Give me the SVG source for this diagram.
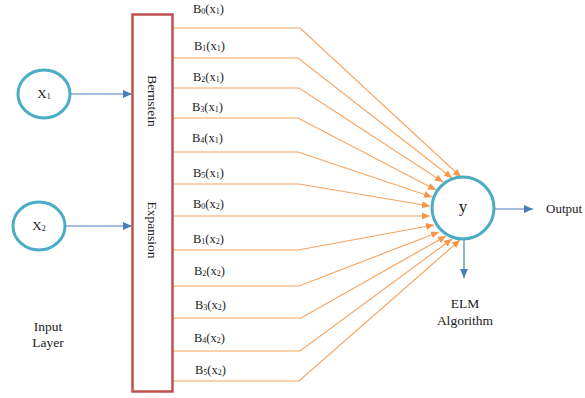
<svg xmlns="http://www.w3.org/2000/svg" width="585" height="398" viewBox="0 0 585 398">
<style>
text{font-family:"Liberation Serif","Times New Roman",serif;fill:#222}
.lbl{font-size:12.5px}
.sub{font-size:8px}
.node{fill:#fff;stroke:#4bacc6;stroke-width:3}
.conn{fill:none;stroke:#f9a55f;stroke-width:1.2}
.blue{fill:none;stroke:#4a7ebb;stroke-width:1.2}
</style>
<defs>
<marker id="ao" markerUnits="userSpaceOnUse" markerWidth="9" markerHeight="8" refX="8" refY="3.5" orient="auto"><path d="M0,0 L8,3.5 L0,7 z" fill="#f79646"/></marker>
<marker id="ab" markerUnits="userSpaceOnUse" markerWidth="10" markerHeight="9" refX="9" refY="4" orient="auto"><path d="M0,0 L9,4 L0,8 z" fill="#4a7ebb"/></marker>
</defs>
<g id="connectors">
<line class="blue" x1="70" y1="94" x2="132" y2="94" marker-end="url(#ab)"/>
<line class="blue" x1="65" y1="226" x2="132" y2="226" marker-end="url(#ab)"/>
<line class="blue" x1="494" y1="209" x2="533" y2="209" marker-end="url(#ab)"/>
<line class="blue" x1="464" y1="240" x2="464" y2="278" marker-end="url(#ab)"/>
<polyline class="conn" points="173,28 300,28 461,177" marker-end="url(#ao)"/>
<polyline class="conn" points="173,58 298,58 452,178" marker-end="url(#ao)"/>
<polyline class="conn" points="173,88 299,88 443,182" marker-end="url(#ao)"/>
<polyline class="conn" points="173,118 298,118 436,190" marker-end="url(#ao)"/>
<polyline class="conn" points="173,152 298,152 432,197" marker-end="url(#ao)"/>
<polyline class="conn" points="173,184 299,184 430,206" marker-end="url(#ao)"/>
<polyline class="conn" points="173,216 298,216 430,216" marker-end="url(#ao)"/>
<polyline class="conn" points="173,250 298,250 434,225" marker-end="url(#ao)"/>
<polyline class="conn" points="173,286 299,286 439,232" marker-end="url(#ao)"/>
<polyline class="conn" points="173,318 301,318 446,236" marker-end="url(#ao)"/>
<polyline class="conn" points="173,351 300,351 452,239" marker-end="url(#ao)"/>
<polyline class="conn" points="173,381 299,381 460,240" marker-end="url(#ao)"/>
</g>
<g id="expansion">
<rect x="132.5" y="14.5" width="40" height="377" fill="#fff" stroke="#c0504d" stroke-width="2.5"/>
<text font-size="13.5" text-anchor="middle" transform="translate(148,101) rotate(90)">Bernstein</text>
<text font-size="13.5" text-anchor="middle" transform="translate(148,230) rotate(90)">Expansion</text>
</g>
<g id="x1">
<ellipse class="node" cx="44" cy="94" rx="26" ry="24"/>
<text x="44" y="98" font-size="13" text-anchor="middle">X<tspan class="sub" dy="1">1</tspan></text>
</g>
<g id="x2">
<ellipse class="node" cx="39" cy="226" rx="26" ry="24"/>
<text x="39" y="230" font-size="13" text-anchor="middle">X<tspan class="sub" dy="1">2</tspan></text>
</g>
<g id="y">
<circle class="node" cx="463" cy="208" r="31"/>
<text x="463" y="212" font-size="17" text-anchor="middle">y</text>
</g>
<g id="labels">
<text class="lbl" x="193" y="13">B<tspan class="sub" dy="1">0</tspan><tspan dy="-1">(x</tspan><tspan class="sub" dy="1">1</tspan><tspan dy="-1">)</tspan></text>
<text class="lbl" x="194" y="50">B<tspan class="sub" dy="1">1</tspan><tspan dy="-1">(x</tspan><tspan class="sub" dy="1">1</tspan><tspan dy="-1">)</tspan></text>
<text class="lbl" x="193" y="81">B<tspan class="sub" dy="1">2</tspan><tspan dy="-1">(x</tspan><tspan class="sub" dy="1">1</tspan><tspan dy="-1">)</tspan></text>
<text class="lbl" x="192" y="111">B<tspan class="sub" dy="1">3</tspan><tspan dy="-1">(x</tspan><tspan class="sub" dy="1">1</tspan><tspan dy="-1">)</tspan></text>
<text class="lbl" x="192" y="142">B<tspan class="sub" dy="1">4</tspan><tspan dy="-1">(x</tspan><tspan class="sub" dy="1">1</tspan><tspan dy="-1">)</tspan></text>
<text class="lbl" x="193" y="177">B<tspan class="sub" dy="1">5</tspan><tspan dy="-1">(x</tspan><tspan class="sub" dy="1">1</tspan><tspan dy="-1">)</tspan></text>
<text class="lbl" x="193" y="208">B<tspan class="sub" dy="1">0</tspan><tspan dy="-1">(x</tspan><tspan class="sub" dy="1">2</tspan><tspan dy="-1">)</tspan></text>
<text class="lbl" x="193" y="243">B<tspan class="sub" dy="1">1</tspan><tspan dy="-1">(x</tspan><tspan class="sub" dy="1">2</tspan><tspan dy="-1">)</tspan></text>
<text class="lbl" x="194" y="275">B<tspan class="sub" dy="1">2</tspan><tspan dy="-1">(x</tspan><tspan class="sub" dy="1">2</tspan><tspan dy="-1">)</tspan></text>
<text class="lbl" x="195" y="309">B<tspan class="sub" dy="1">3</tspan><tspan dy="-1">(x</tspan><tspan class="sub" dy="1">2</tspan><tspan dy="-1">)</tspan></text>
<text class="lbl" x="194" y="342">B<tspan class="sub" dy="1">4</tspan><tspan dy="-1">(x</tspan><tspan class="sub" dy="1">2</tspan><tspan dy="-1">)</tspan></text>
<text class="lbl" x="195" y="374">B<tspan class="sub" dy="1">5</tspan><tspan dy="-1">(x</tspan><tspan class="sub" dy="1">2</tspan><tspan dy="-1">)</tspan></text>
<text x="546" y="213" font-size="13">Output</text>
<text x="465" y="308" font-size="13.5" text-anchor="middle">ELM</text>
<text x="465" y="325" font-size="13.5" text-anchor="middle">Algorithm</text>
<text x="48" y="331" font-size="13.5" text-anchor="middle">Input</text>
<text x="48" y="347" font-size="13.5" text-anchor="middle">Layer</text>
</g>
</svg>
